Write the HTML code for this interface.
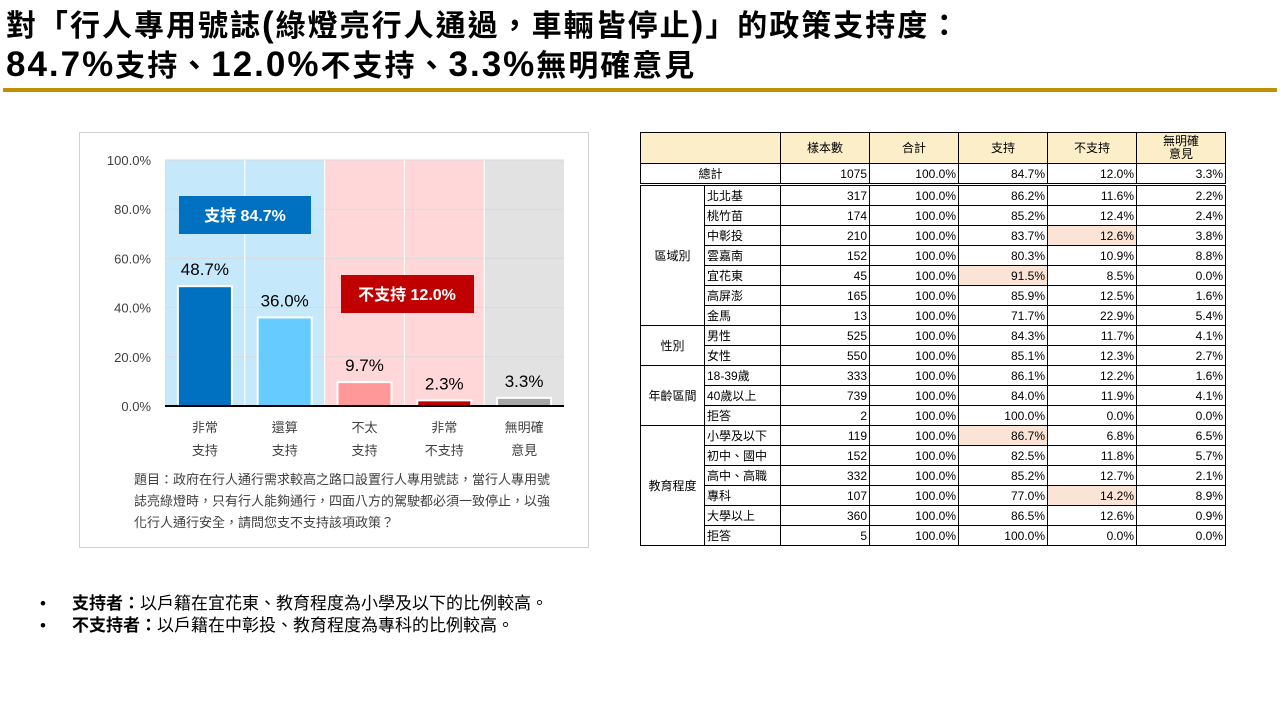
<!DOCTYPE html>
<html><head><meta charset="utf-8">
<style>
body{margin:0;width:1280px;height:720px;background:#fff;position:relative;overflow:hidden;font-family:"Liberation Sans","Noto Sans CJK TC",sans-serif;}
#title{position:absolute;left:6px;top:6px;font-size:30px;font-weight:bold;line-height:38px;color:#000;font-family:"Liberation Sans","Noto Sans CJK TC",sans-serif;letter-spacing:2px;white-space:nowrap}
#title .l{font-size:35px}
#rule{position:absolute;left:3px;top:88px;width:1274px;height:4px;background:#c09000}
#chartbox{position:absolute;left:79px;top:132px;width:510px;height:416px;border:1px solid #d0d0d0;box-sizing:border-box}
#tbl{position:absolute;left:640px;top:132px;border-collapse:collapse;font-size:12px;table-layout:fixed}
#tbl td{border:1px solid #000;height:19px;padding:0 2px;white-space:nowrap;overflow:hidden}
#tbl td.n{text-align:right}
#tbl td.h{background:#fbeec8;text-align:center;height:30px;line-height:13px}
#tbl td.hl{background:#fbe3d6}
#notes{position:absolute;left:40px;top:593px;font-size:17px;line-height:22px}
#notes div{position:relative;padding-left:32px}
#notes div:before{content:"•";position:absolute;left:0;}
</style></head><body>
<div id="title">對「行人專用號誌<span class="l">(</span>綠燈亮行人通過，車輛皆停止<span class="l">)</span>」的政策支持度：<br><span class="l">84.7%</span>支持、<span class="l">12.0%</span>不支持、<span class="l">3.3%</span>無明確意見</div>
<div id="rule"></div>
<div id="chartbox"></div>
<svg id="chart" style="position:absolute;left:0;top:0" width="640" height="560"></svg>
<table id="tbl">
<colgroup><col style="width:64px"><col style="width:76px"><col style="width:89px"><col style="width:89px"><col style="width:89px"><col style="width:89px"><col style="width:89px"></colgroup>
<tbody id="tb"></tbody></table>
<div id="notes">
<div><b>支持者：</b>以戶籍在宜花東、教育程度為小學及以下的比例較高。</div>
<div><b>不支持者：</b>以戶籍在中彰投、教育程度為專科的比例較高。</div>
</div>
<script>
const categories=[["非常","支持"],["還算","支持"],["不太","支持"],["非常","不支持"],["無明確","意見"]];
const values=[48.7,36.0,9.7,2.3,3.3];
const barColors=["#0070c0","#66ccff","#ff9999","#c00000","#a6a6a6"];
const bgColors=["#c5e9fb","#c5e9fb","#ffd7d9","#ffd7d9","#e2e2e2"];
const ticks=[0,20,40,60,80,100];
const svg=document.getElementById('chart');
const NS="http://www.w3.org/2000/svg";
const x0=165,x1=564,yTop=160,yBot=406;
const colW=(x1-x0)/categories.length;
const y=v=>yBot-(v/100)*(yBot-yTop);
function mk(t,a){const e=document.createElementNS(NS,t);for(const k in a)e.setAttribute(k,a[k]);svg.appendChild(e);return e;}
categories.forEach((c,i)=>{
 const r=mk('rect',{x:x0+i*colW,y:yTop,width:colW,height:yBot-yTop,fill:bgColors[i]});
 
 
});
ticks.forEach(t=>{
 const l=mk('line',{x1:x0,x2:x1,y1:y(t),y2:y(t),stroke:'#d9d9d9','stroke-width':1});
 
 
 const tx=mk('text',{x:151,y:y(t)+5,'text-anchor':'end','font-size':13,fill:'#404040'});
 tx.textContent=t.toFixed(1)+'%';
 
 
});
for(let i=1;i<categories.length;i++){
 const l=mk('line',{x1:x0+i*colW,x2:x0+i*colW,y1:yTop,y2:yBot,stroke:'#fff','stroke-width':1});
 
 
}
values.forEach((v,i)=>{
 const cx=x0+i*colW+colW/2;
 const b=mk('rect',{x:cx-27,y:y(v),width:54,height:yBot-y(v),fill:barColors[i],stroke:'#fff','stroke-width':2});
 
 
 const t=mk('text',{x:cx,y:y(v)-11,'text-anchor':'middle','font-size':17,fill:'#000'});
 t.textContent=v.toFixed(1)+'%';
 
 
 categories[i].forEach((s,j)=>{
  const c=mk('text',{x:cx,y:432+j*23,'text-anchor':'middle','font-size':13,fill:'#404040'});
  c.textContent=s;
  
  
 });
});
const ax=mk('line',{x1:x0,x2:x1,y1:yBot,y2:yBot,stroke:'#000','stroke-width':2});


const b1=mk('rect',{x:179,y:196,width:132,height:38,fill:'#0070c0'});


const t1=mk('text',{x:245,y:221,'text-anchor':'middle','font-size':16,'font-weight':'bold',fill:'#fff'});
t1.textContent='支持 84.7%';


const b2=mk('rect',{x:341,y:275,width:133,height:38,fill:'#c00000'});


const t2=mk('text',{x:407,y:300,'text-anchor':'middle','font-size':16,'font-weight':'bold',fill:'#fff'});
t2.textContent='不支持 12.0%';


["題目：政府在行人通行需求較高之路口設置行人專用號誌，當行人專用號","誌亮綠燈時，只有行人能夠通行，四面八方的駕駛都必須一致停止，以強","化行人通行安全，請問您支不支持該項政策？"].forEach((s,j)=>{
 const q=mk('text',{x:134,y:484+j*21.5,'font-size':13,fill:'#404040'});
 q.textContent=s;
 
 
});

// table
const headers=["樣本數","合計","支持","不支持","無明確<br>意見"];
const groups=[["區域別",7],["性別",2],["年齡區間",3],["教育程度",6]];
const rowLabels=["北北基","桃竹苗","中彰投","雲嘉南","宜花東","高屏澎","金馬","男性","女性","18-39歲","40歲以上","拒答","小學及以下","初中、國中","高中、高職","專科","大學以上","拒答"];
const nVals=[317,174,210,152,45,165,13,525,550,333,739,2,119,152,332,107,360,5];
const supVals=["86.2%","85.2%","83.7%","80.3%","91.5%","85.9%","71.7%","84.3%","85.1%","86.1%","84.0%","100.0%","86.7%","82.5%","85.2%","77.0%","86.5%","100.0%"];
const oppVals=["11.6%","12.4%","12.6%","10.9%","8.5%","12.5%","22.9%","11.7%","12.3%","12.2%","11.9%","0.0%","6.8%","11.8%","12.7%","14.2%","12.6%","0.0%"];
const noVals=["2.2%","2.4%","3.8%","8.8%","0.0%","1.6%","5.4%","4.1%","2.7%","1.6%","4.1%","0.0%","6.5%","5.7%","2.1%","8.9%","0.9%","0.0%"];
const hlSup=[4,12],hlOpp=[2,15];
const tb=document.getElementById('tb');
let h='<tr><td class="h" colspan="2"></td>'+headers.map(x=>'<td class="h">'+x+'</td>').join('')+'</tr>';
h+='<tr style="border-bottom:3px double #000"><td colspan="2" style="text-align:center">總計</td><td class="n">1075</td><td class="n">100.0%</td><td class="n">84.7%</td><td class="n">12.0%</td><td class="n">3.3%</td></tr>';
let idx=0;
groups.forEach(g=>{
 for(let k=0;k<g[1];k++){
  const i=idx++;
  h+='<tr>';
  if(k==0)h+='<td rowspan="'+g[1]+'" style="text-align:center">'+g[0]+'</td>';
  h+='<td>'+rowLabels[i]+'</td><td class="n">'+nVals[i]+'</td><td class="n">100.0%</td>';
  h+='<td class="n'+(hlSup.includes(i)?' hl':'')+'">'+supVals[i]+'</td>';
  h+='<td class="n'+(hlOpp.includes(i)?' hl':'')+'">'+oppVals[i]+'</td>';
  h+='<td class="n">'+noVals[i]+'</td></tr>';
 }
});
tb.innerHTML=h;
</script>
</body></html>
